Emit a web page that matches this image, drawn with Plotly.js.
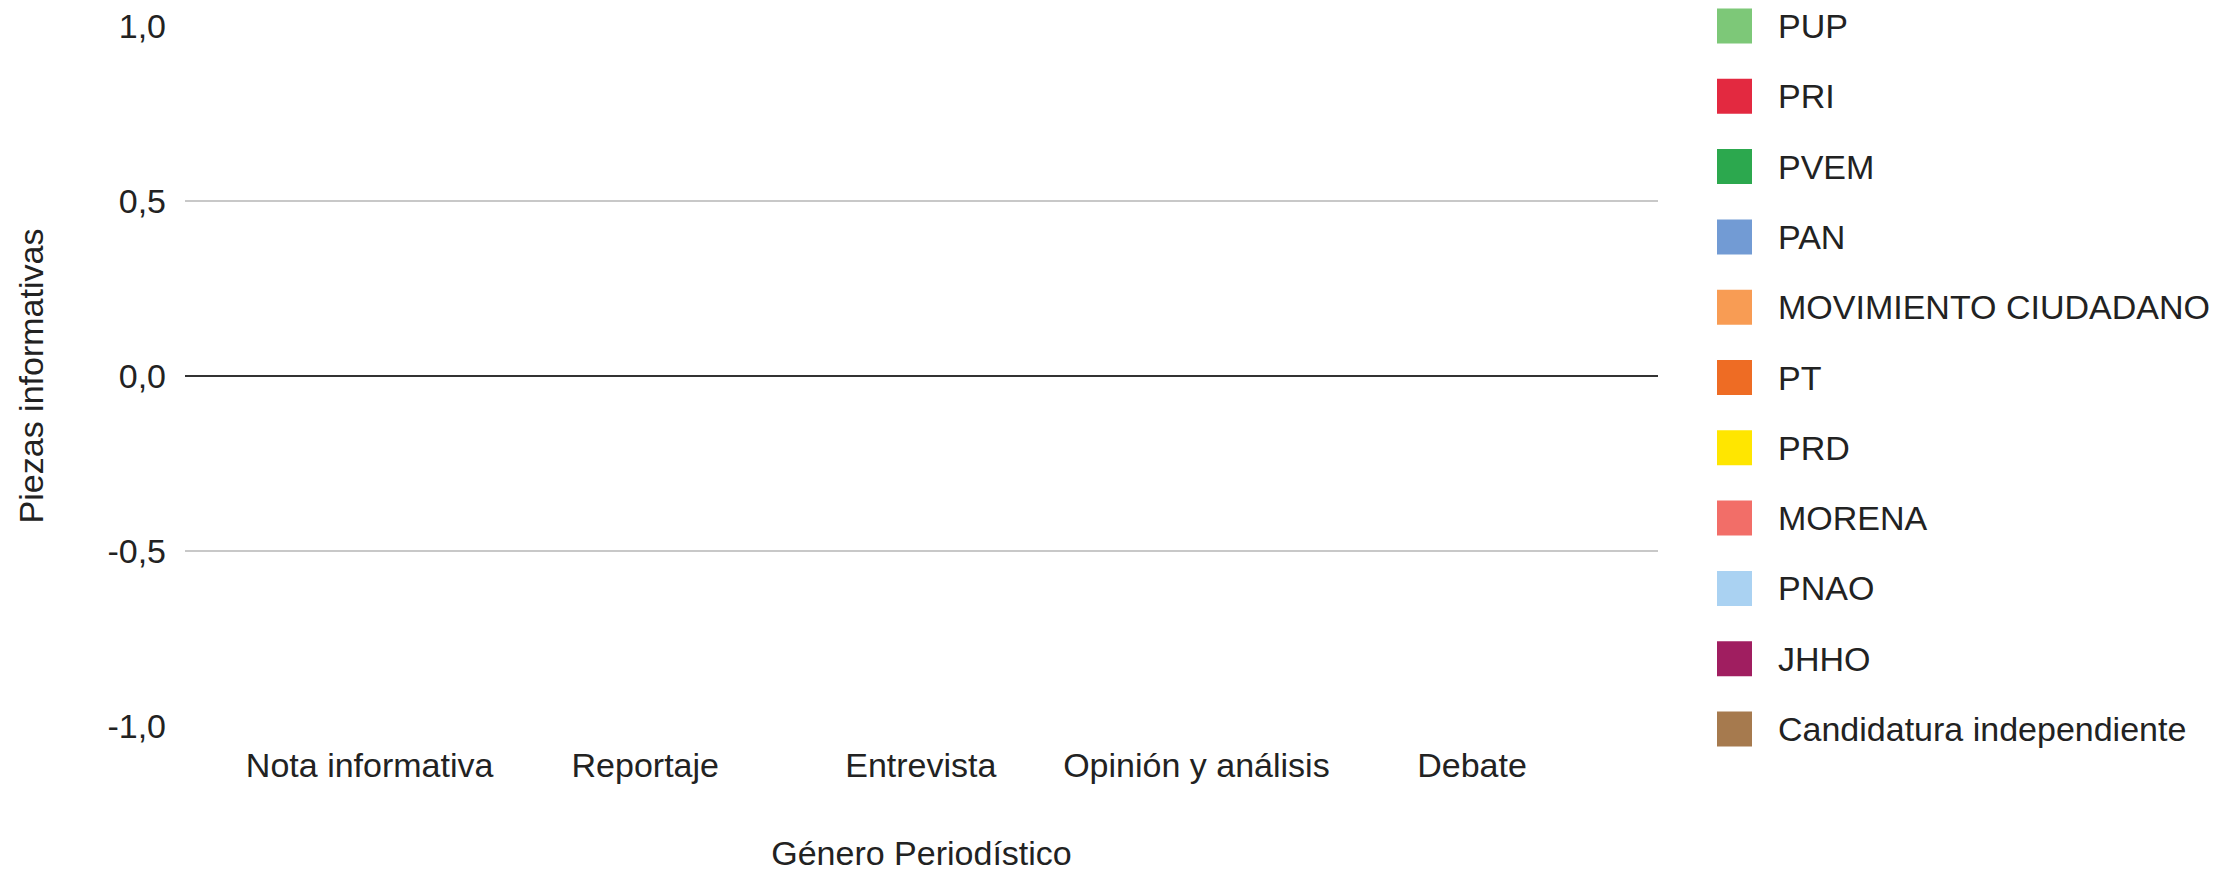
<!DOCTYPE html>
<html>
<head>
<meta charset="utf-8">
<script src="https://cdn.plot.ly/plotly-3.0.1.min.js"></script>
<style>html,body{margin:0;padding:0;background:#fff;}#chart{width:2228px;height:872px;}</style>
</head>
<body>
<div id="chart"></div>
<script>
// Categories (x axis)
const categories = ["Nota informativa", "Reportaje", "Entrevista", "Opinión y análisis", "Debate"];

// Series values (all zero in the reference)
const PUP = [0, 0, 0, 0, 0];
const PRI = [0, 0, 0, 0, 0];
const PVEM = [0, 0, 0, 0, 0];
const PAN = [0, 0, 0, 0, 0];
const MOVIMIENTO_CIUDADANO = [0, 0, 0, 0, 0];
const PT = [0, 0, 0, 0, 0];
const PRD = [0, 0, 0, 0, 0];
const MORENA = [0, 0, 0, 0, 0];
const PNAO = [0, 0, 0, 0, 0];
const JHHO = [0, 0, 0, 0, 0];
const CANDIDATURA_INDEPENDIENTE = [0, 0, 0, 0, 0];

const seriesNames = ["PUP", "PRI", "PVEM", "PAN", "MOVIMIENTO CIUDADANO", "PT", "PRD", "MORENA", "PNAO", "JHHO", "Candidatura independiente"];
const seriesValues = [PUP, PRI, PVEM, PAN, MOVIMIENTO_CIUDADANO, PT, PRD, MORENA, PNAO, JHHO, CANDIDATURA_INDEPENDIENTE];
const seriesColors = ["#7dc878", "#e32940", "#2ca84e", "#729bd4", "#f89c54", "#ee6c24", "#ffe600", "#f26e68", "#aad2f2", "#a01e60", "#a67a4e"];

// Y tick values and labels
const yTicks = [-1, -0.5, 0, 0.5, 1];
const yTickLabels = ["-1,0", "-0,5", "0,0", "0,5", "1,0"];

const FONT = "Liberation Sans, Arial, sans-serif";
const TXT = "#222222";
const FS = 34;

const traces = seriesNames.map((name, i) => ({
  type: "bar",
  name: name,
  x: categories,
  y: seriesValues[i],
  marker: {color: seriesColors[i]},
  showlegend: false,
  hoverinfo: "x+y+name"
}));

// Custom legend (large square swatches) built from the series arrays
const W = 2228, H = 872;
const mL = 185, mR = 570, mT = 26, mB = 146;
const pw = W - mL - mR, ph = H - mT - mB;
const toPX = px => (px - mL) / pw;
const toPY = py => (H - mB - py) / ph;
const legX0 = 1717, legSw = 35, legTextX = 1776, legY0 = 26, legStep = 70.3;

const shapes = [];
const annotations = [];
seriesNames.forEach((name, i) => {
  const cy = legY0 + i * legStep;
  shapes.push({
    type: "rect", xref: "paper", yref: "paper",
    x0: toPX(legX0), x1: toPX(legX0 + legSw),
    y0: toPY(cy + legSw / 2), y1: toPY(cy - legSw / 2),
    fillcolor: seriesColors[i], line: {width: 0}
  });
  annotations.push({
    xref: "paper", yref: "paper",
    x: toPX(legTextX), y: toPY(cy),
    xanchor: "left", yanchor: "middle",
    text: name, showarrow: false,
    font: {family: FONT, size: FS, color: TXT}
  });
});

const layout = {
  width: W, height: H,
  margin: {l: mL, r: mR, t: mT, b: mB, pad: 0},
  paper_bgcolor: "#ffffff",
  plot_bgcolor: "#ffffff",
  barmode: "group",
  font: {family: FONT, size: FS, color: TXT},
  xaxis: {
    type: "category",
    range: [-0.67, 4.675],
    showgrid: false,
    zeroline: false,
    showline: false,
    ticks: "",
    ticklabelstandoff: 16,
    tickfont: {family: FONT, size: FS, color: TXT},
    title: {text: "Género Periodístico", font: {family: FONT, size: FS, color: TXT}, standoff: 70},
    automargin: false,
    fixedrange: true
  },
  yaxis: {
    range: [-1, 1],
    tickvals: yTicks,
    ticktext: yTickLabels,
    showgrid: true,
    gridcolor: "#c8c8c8",
    gridwidth: 2,
    zeroline: true,
    zerolinecolor: "#333333",
    zerolinewidth: 2.5,
    showline: false,
    ticks: "",
    ticklabelstandoff: 18,
    tickfont: {family: FONT, size: FS, color: TXT},
    title: {text: "Piezas informativas\u00a0\u00a0\u00a0", font: {family: FONT, size: FS, color: TXT}, standoff: 53},
    automargin: false,
    fixedrange: true
  },
  shapes: shapes,
  annotations: annotations,
  showlegend: false
};

Plotly.newPlot("chart", traces, layout, {displayModeBar: false, staticPlot: true});
</script>
</body>
</html>
